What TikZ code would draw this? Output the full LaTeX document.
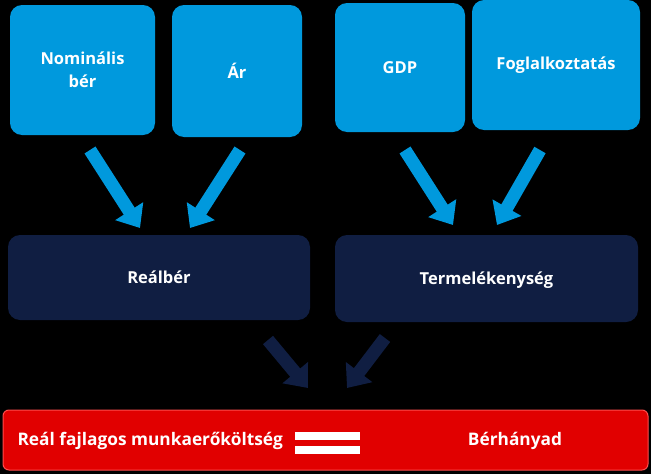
\documentclass[tikz,border=0pt]{standalone}
\usepackage{fontspec}
\setmainfont{Open Sans}
\usetikzlibrary{arrows.meta}
\definecolor{lb}{RGB}{0,153,221}
\definecolor{nv}{RGB}{16,30,66}
\definecolor{rd}{RGB}{225,0,0}
\tikzset{
 box/.style={rounded corners=12pt,text=white,font=\bfseries\fontsize{16.5}{23}\selectfont,align=center},
 top/.style={box,fill=lb},
 mid/.style={box,fill=nv},
 rtext/.style={text=white,font=\bfseries\fontsize{17.3}{20}\selectfont},
 barr/.style={line width=13pt,-{Triangle[length=20pt,width=32pt]}},
}
\begin{document}
\begin{tikzpicture}[x=1pt,y=-1pt]
\fill[black] (0,0) rectangle (651,474);
\path[top] (10,5) rectangle (155,135) node[midway] (n1) {Nominális\\bér};
\path[top] (172,5) rectangle (302,137) node[midway] (n2) {Ár};
\path[top] (335,3) rectangle (465,132) node[midway] (n3) {GDP};
\path[top] (472,0) rectangle (640,130) node[midway] (n4) {Foglalkoztatás};
\path[mid] (8,235) rectangle (310,320) node[midway] (m1) {Reálbér};
\path[mid] (335,235) rectangle (638,322) node[midway,yshift=-2pt] (m2) {Termelékenység};
\path[rounded corners=6pt,fill=rd,draw=red!70!white,line width=1pt] (3,410) rectangle (648,470);
\node[rtext,anchor=west] (r1) at (14,441) {Reál fajlagos munkaerőköltség};
\node[rtext] (r2) at (515,441) {Bérhányad};
\fill[white] (295,432) rectangle (360,440);
\fill[white] (295,446) rectangle (360,454);
\coordinate (a1) at (90,150); \coordinate (b1) at (140,228);
\coordinate (a2) at (240,150); \coordinate (b2) at (190,228);
\coordinate (a3) at (405,150); \coordinate (b3) at (453,225);
\coordinate (a4) at (540,150); \coordinate (b4) at (497,225);
\coordinate (a5) at (268,340); \coordinate (b5) at (308,388);
\coordinate (a6) at (385,338); \coordinate (b6) at (347,388);
\foreach \i in {1,2,3,4} \draw[barr,draw=lb,fill=lb] (a\i) -- (b\i);
\foreach \i in {5,6} \draw[barr,draw=nv,fill=nv] (a\i) -- (b\i);
\end{tikzpicture}
\end{document}
